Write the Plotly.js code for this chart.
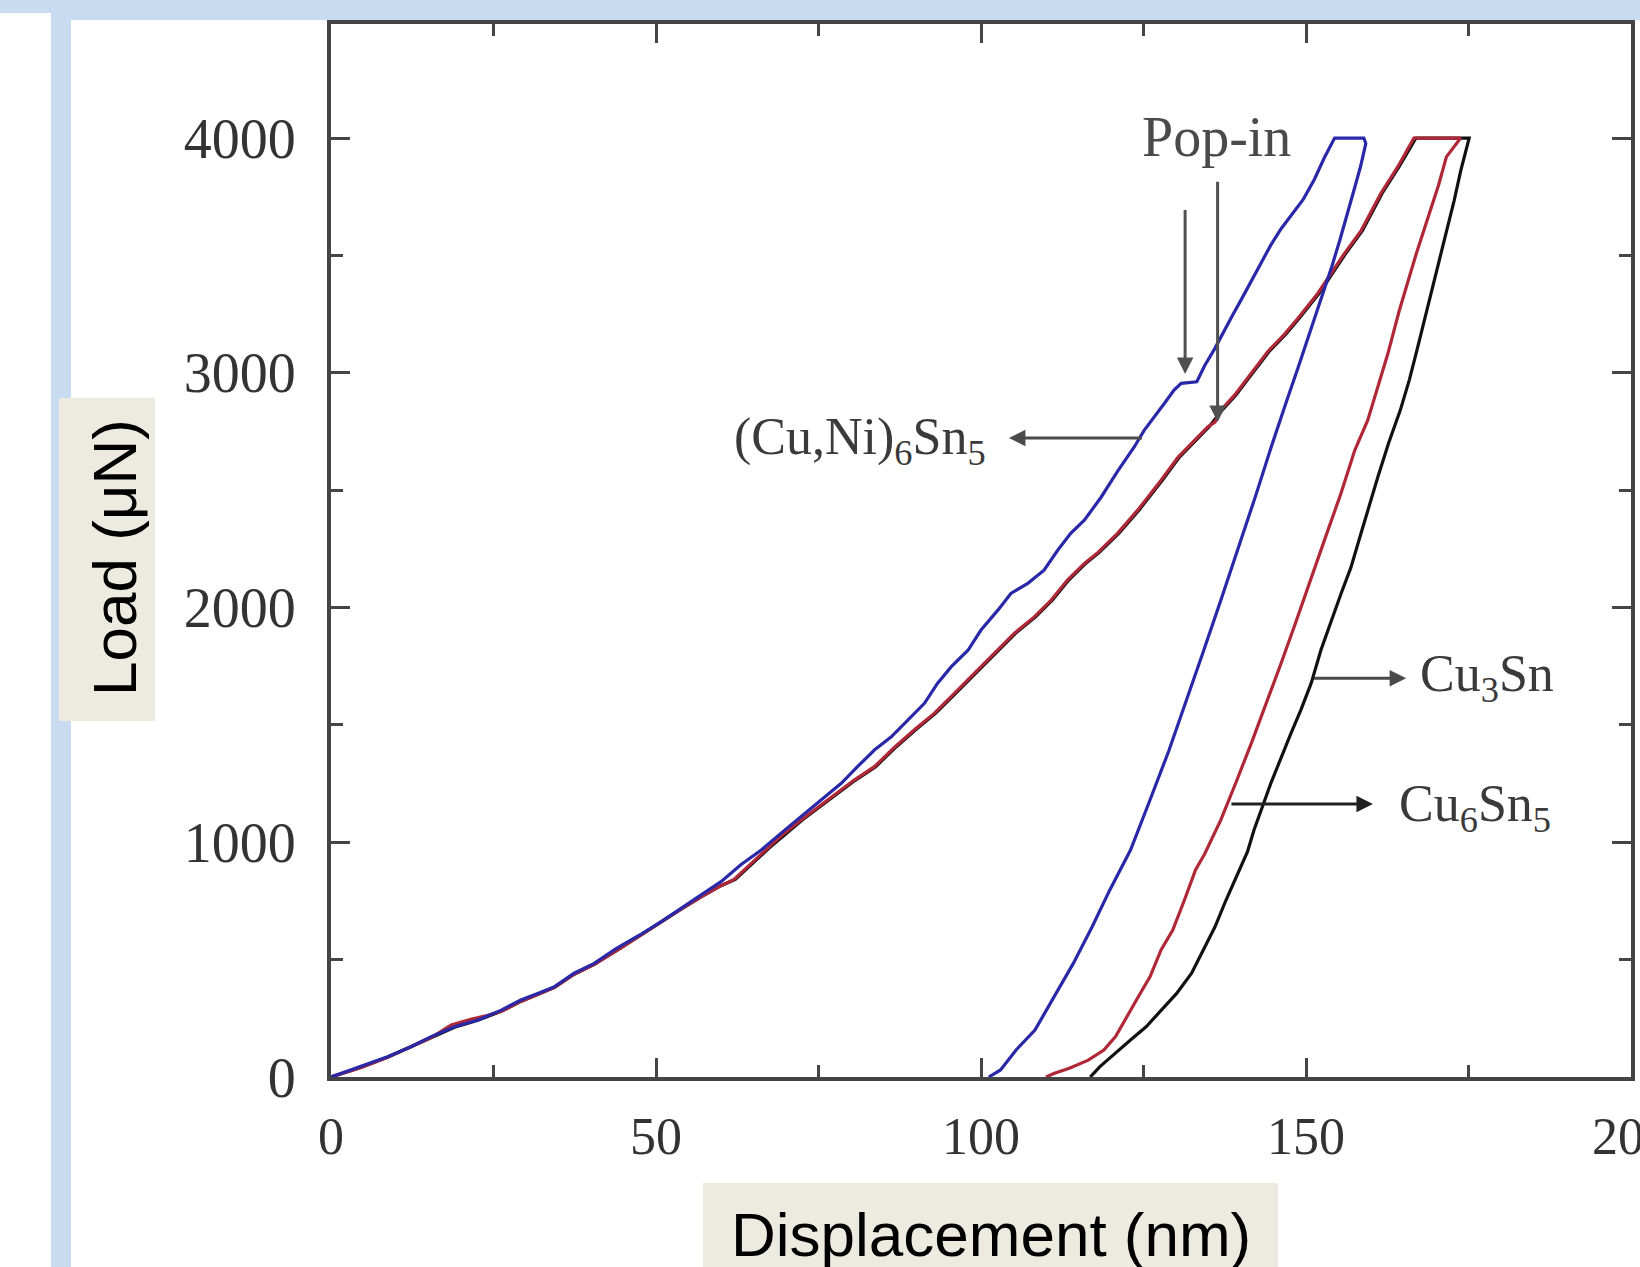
<!DOCTYPE html>
<html>
<head>
<meta charset="utf-8">
<script src="https://cdn.plot.ly/plotly-3.0.1.min.js"></script>
<style>
  html, body { margin: 0; padding: 0; background: #ffffff; }
  #chart { width: 1640px; height: 1267px; }
</style>
</head>
<body>
<div id="chart"></div>
<script>
// ---------------- data (displacement nm, load µN) ----------------
const xTickVals = [0, 50, 100, 150, 200];
const yTickVals = [0, 1000, 2000, 3000, 4000];

// (Cu,Ni)6Sn5 – blue
const cuNiLoadX = [0, 4.6, 8.7, 12.3, 15.4, 19.0, 22.6, 26.2, 29.2, 31.8, 34.4, 37.4, 40.5, 43.8, 47.5, 50.8, 53.8, 56.9, 60.0, 63.1, 66.2, 69.2, 72.3, 75.4, 78.5, 81.0, 83.6, 86.2, 88.7, 91.3, 93.3, 95.4, 98.0, 100.0, 102.6, 104.6, 107.2, 109.7, 111.8, 113.8, 115.9, 118.5, 121.0, 123.6, 125.1, 126.7, 128.2, 129.7, 130.8, 133.2, 134.4, 135.9, 137.2, 138.7, 140.1, 141.6, 143.1, 144.6, 146.2, 147.8, 149.6, 151.3, 152.8, 154.4, 158.9];
const cuNiLoadY = [0, 44, 86, 129, 172, 214, 243, 285, 328, 356, 385, 442, 484, 546, 605, 662, 718, 775, 832, 905, 967, 1038, 1109, 1180, 1251, 1322, 1393, 1449, 1520, 1592, 1677, 1747, 1818, 1904, 1989, 2060, 2103, 2159, 2244, 2316, 2372, 2471, 2580, 2685, 2755, 2812, 2869, 2926, 2955, 2962, 3030, 3100, 3170, 3245, 3315, 3390, 3465, 3545, 3615, 3675, 3740, 3825, 3915, 4000, 4000];
const cuNiUnloadX = [159.2, 158.4, 157.4, 156.3, 155.2, 154.0, 152.7, 151.4, 150.1, 148.7, 147.2, 145.8, 144.6, 142.3, 139.7, 137.0, 134.3, 131.6, 128.9, 126.0, 123.0, 119.8, 117.1, 114.2, 111.2, 108.3, 105.4, 103.0, 101.2];
const cuNiUnloadY = [3977, 3880, 3780, 3670, 3565, 3455, 3345, 3235, 3125, 3015, 2895, 2780, 2680, 2480, 2260, 2040, 1820, 1600, 1390, 1180, 967, 796, 640, 484, 342, 200, 115, 30, 0];

// Cu6Sn5 – red
const cu6LoadX = [0, 4.6, 8.7, 12.3, 15.4, 18.5, 21.5, 24.0, 26.2, 29.2, 31.8, 34.4, 37.4, 40.5, 44.6, 47.7, 50.8, 53.8, 57.0, 60.0, 62.0, 64.6, 67.2, 69.8, 72.3, 76.4, 80.5, 83.6, 86.7, 89.7, 92.8, 95.9, 99.0, 102.0, 105.1, 108.2, 110.8, 113.3, 115.9, 118.0, 121.0, 124.1, 127.7, 130.3, 132.8, 134.9, 136.0, 136.9, 139.0, 140.5, 142.6, 144.1, 146.7, 148.7, 151.8, 153.8, 155.9, 158.5, 161.5, 164.1, 166.6, 173.8];
const cu6LoadY = [0, 40, 84, 130, 168, 222, 246, 262, 280, 322, 352, 382, 438, 480, 550, 606, 660, 714, 768, 815, 842, 910, 975, 1040, 1095, 1180, 1265, 1322, 1405, 1478, 1549, 1634, 1719, 1805, 1890, 1960, 2032, 2117, 2188, 2235, 2316, 2415, 2542, 2640, 2713, 2770, 2790, 2841, 2905, 2960, 3035, 3090, 3165, 3230, 3338, 3423, 3508, 3607, 3764, 3877, 4000, 4000];
const cu6UnloadX = [171.6, 170.4, 169.2, 168.0, 167.0, 165.8, 164.3, 162.6, 161.0, 159.5, 157.5, 155.3, 153.0, 150.7, 148.4, 146.2, 144.0, 141.7, 139.3, 136.9, 134.4, 133.0, 131.3, 129.5, 127.7, 126.0, 124.2, 122.4, 120.7, 118.9, 116.5, 113.6, 111.2, 110.0];
const cu6UnloadY = [3920, 3800, 3700, 3600, 3510, 3400, 3260, 3082, 2940, 2798, 2670, 2480, 2300, 2115, 1935, 1765, 1600, 1430, 1260, 1095, 950, 882, 754, 626, 541, 427, 342, 257, 172, 115, 72, 37, 15, 0];

// Cu3Sn – black
const cu3LoadX = [0, 4.6, 8.7, 12.3, 15.4, 19.0, 22.6, 26.2, 29.2, 31.8, 34.4, 37.4, 40.5, 44.6, 47.7, 50.8, 53.8, 57.0, 60.0, 62.2, 67.4, 72.5, 76.6, 80.7, 83.8, 86.9, 89.9, 93.0, 96.1, 99.2, 102.2, 105.3, 108.4, 111.0, 113.5, 116.1, 118.2, 121.2, 124.3, 127.9, 130.5, 133.0, 135.1, 137.1, 139.2, 140.7, 142.8, 144.3, 146.9, 148.9, 152.0, 154.0, 156.1, 158.7, 161.7, 164.3, 166.9, 175.1];
const cu3LoadY = [0, 40, 84, 128, 168, 212, 242, 280, 322, 352, 382, 438, 480, 550, 606, 660, 714, 768, 815, 842, 975, 1095, 1180, 1265, 1322, 1405, 1478, 1549, 1634, 1719, 1805, 1890, 1960, 2032, 2117, 2188, 2235, 2316, 2415, 2542, 2640, 2713, 2770, 2841, 2905, 2960, 3035, 3090, 3165, 3230, 3338, 3423, 3508, 3607, 3764, 3877, 4000, 4000];
const cu3UnloadX = [173.8, 172.8, 171.6, 170.5, 169.3, 168.2, 167.1, 165.9, 164.5, 162.7, 161.1, 158.5, 156.9, 155.4, 153.8, 152.3, 150.8, 149.2, 147.7, 146.2, 144.6, 143.5, 142.0, 141.0, 139.5, 137.7, 136.0, 134.2, 132.4, 130.1, 127.7, 125.4, 123.0, 120.7, 118.3, 116.8];
const cu3UnloadY = [3860, 3735, 3600, 3470, 3340, 3220, 3100, 2970, 2840, 2700, 2560, 2320, 2170, 2060, 1934, 1819, 1678, 1563, 1465, 1363, 1252, 1167, 1052, 960, 868, 754, 640, 541, 442, 356, 285, 214, 158, 101, 44, 0];

// ---------------- page geometry ----------------
const W = 1640, H = 1267;
const M = { l: 331, r: 9, t: 24, b: 190 };
const plotW = W - M.l - M.r;
const plotH = H - M.t - M.b;
const px = x => (x - M.l) / plotW;        // page pixel -> paper x
const py = y => (H - M.b - y) / plotH;    // page pixel -> paper y

const axisColor = '#454545';
const serif = 'Liberation Serif, Times New Roman, serif';
const sans = 'Liberation Sans, Arial, sans-serif';

const traces = [
  { x: cu3LoadX.concat(cu3UnloadX), y: cu3LoadY.concat(cu3UnloadY), name: 'Cu3Sn',
    mode: 'lines', line: { color: '#111111', width: 3.2 } },
  { x: cu6LoadX.concat(cu6UnloadX), y: cu6LoadY.concat(cu6UnloadY), name: 'Cu6Sn5',
    mode: 'lines', line: { color: '#b02838', width: 3.2 } },
  { x: cuNiLoadX.concat(cuNiUnloadX), y: cuNiLoadY.concat(cuNiUnloadY), name: '(Cu,Ni)6Sn5',
    mode: 'lines', line: { color: '#2828a8', width: 3.2 } }
];

const band = '#c8dbf1';
const beige = '#edebe0';
const shapes = [
  { type: 'rect', xref: 'paper', yref: 'paper', x0: px(51), x1: px(71), y0: py(1300), y1: py(-20), fillcolor: band, line: { width: 0 }, layer: 'below' },
  { type: 'rect', xref: 'paper', yref: 'paper', x0: px(51), x1: px(1700), y0: py(20), y1: py(-20), fillcolor: band, line: { width: 0 }, layer: 'below' },
  { type: 'rect', xref: 'paper', yref: 'paper', x0: px(-20), x1: px(51), y0: py(13), y1: py(-20), fillcolor: band, line: { width: 0 }, layer: 'below' },
  { type: 'rect', xref: 'paper', yref: 'paper', x0: px(59), x1: px(155), y0: py(721), y1: py(398), fillcolor: beige, line: { width: 0 }, layer: 'below' },
  { type: 'rect', xref: 'paper', yref: 'paper', x0: px(703), x1: px(1278), y0: py(1300), y1: py(1183), fillcolor: beige, line: { width: 0 }, layer: 'below' }
];

function arrow(tipX, tipY, tailX, tailY, color) {
  return { x: tipX, y: tipY, ax: tailX, ay: tailY, xref: 'x', yref: 'y', axref: 'x', ayref: 'y',
    text: '', showarrow: true, arrowhead: 2, arrowsize: 1.1, arrowwidth: 3,
    arrowcolor: color, standoff: 0, startstandoff: 0 };
}
const labelFont = { family: serif, size: 52, color: '#3a3a3a' };

const annotations = [
  { text: 'Displacement (nm)', xref: 'paper', yref: 'paper', x: px(991), y: py(1234),
    xanchor: 'center', yanchor: 'middle', showarrow: false,
    font: { family: sans, size: 62, color: '#000000' } },
  { text: 'Load (μN)', xref: 'paper', yref: 'paper', x: px(114), y: py(558), textangle: -90,
    xanchor: 'center', yanchor: 'middle', showarrow: false,
    font: { family: sans, size: 62, color: '#000000' } },
  { text: 'Pop-in', x: 136.2, y: 4005, xref: 'x', yref: 'y', showarrow: false,
    xanchor: 'center', yanchor: 'middle', font: { family: serif, size: 56, color: '#4a4a4a' } },
  { text: '(Cu,Ni)<sub>6</sub>Sn<sub>5</sub>', x: 101.0, y: 2710, xref: 'x', yref: 'y', showarrow: false,
    xanchor: 'right', yanchor: 'middle', font: labelFont },
  { text: 'Cu<sub>3</sub>Sn', x: 167.2, y: 1700, xref: 'x', yref: 'y', showarrow: false,
    xanchor: 'left', yanchor: 'middle', font: labelFont },
  { text: 'Cu<sub>6</sub>Sn<sub>5</sub>', x: 164.0, y: 1150, xref: 'x', yref: 'y', showarrow: false,
    xanchor: 'left', yanchor: 'middle', font: labelFont },
  arrow(131.4, 2995, 131.4, 3700, '#505050'),
  arrow(136.4, 2790, 136.4, 3820, '#505050'),
  arrow(104.3, 2722, 125.0, 2722, '#4a4a4a'),
  arrow(165.4, 1699, 151.0, 1699, '#4a4a4a'),
  arrow(160.3, 1163, 138.3, 1163, '#202020')
];

const commonAxis = {
  showgrid: false, zeroline: false, showline: true, linewidth: 4, linecolor: axisColor,
  mirror: 'ticks', ticks: 'inside', ticklen: 19, tickwidth: 3, tickcolor: axisColor,
  ticklabeloverflow: 'allow', fixedrange: true
};

const layout = {
  width: W, height: H,
  margin: M,
  paper_bgcolor: '#ffffff', plot_bgcolor: '#ffffff',
  showlegend: false, hovermode: false,
  xaxis: Object.assign({}, commonAxis, {
    range: [0, 200], tickmode: 'array', tickvals: xTickVals, ticktext: xTickVals.map(String),
    tickfont: { family: serif, size: 52, color: '#333333' }, ticklabelstandoff: 11,
    minor: { tickvals: [25, 75, 125, 175], ticks: 'inside', ticklen: 12, tickwidth: 3, tickcolor: axisColor }
  }),
  yaxis: Object.assign({}, commonAxis, {
    range: [0, 4486], tickmode: 'array', tickvals: yTickVals, ticktext: yTickVals.map(String),
    tickfont: { family: serif, size: 56, color: '#333333' }, ticklabelstandoff: 20,
    minor: { tickvals: [500, 1500, 2500, 3500], ticks: 'inside', ticklen: 12, tickwidth: 3, tickcolor: axisColor }
  }),
  shapes: shapes,
  annotations: annotations
};

Plotly.newPlot('chart', traces, layout, { staticPlot: true, displayModeBar: false });
</script>
</body>
</html>
